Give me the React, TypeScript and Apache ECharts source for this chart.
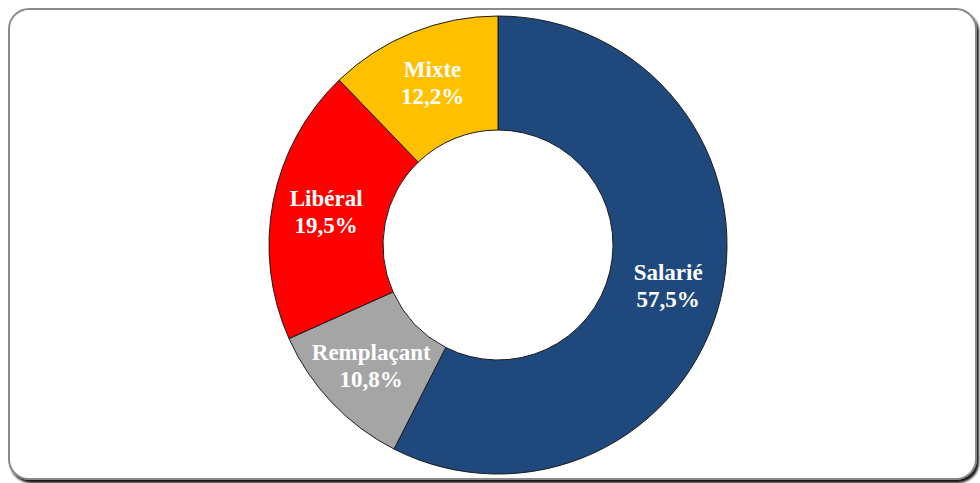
import React, { useEffect, useRef } from "react";
import * as echarts from "echarts";

const categories = ["Salarié", "Remplaçant", "Libéral", "Mixte"];
const values = [57.5, 10.8, 19.5, 12.2];
const colors = ["#1F497D", "#A5A5A5", "#FF0000", "#FFC000"];

export default function App() {
  const ref = useRef<HTMLDivElement>(null);
  useEffect(() => {
    document.body.style.margin = "0";
    const chart = echarts.init(ref.current!, undefined, { renderer: "svg" });
    chart.setOption({
      animation: false,
      backgroundColor: "#ffffff",
      graphic: [
        {
          type: "rect",
          z: -10,
          shape: { x: 9, y: 9, width: 967, height: 470, r: 20 },
          style: {
            fill: "#ffffff",
            stroke: "#8a8a8a",
            lineWidth: 2,
            shadowColor: "rgba(0,0,0,0.9)",
            shadowOffsetX: 2,
            shadowOffsetY: 3,
            shadowBlur: 2,
          },
        },
      ],
      series: [
        {
          type: "pie",
          center: [498, 245],
          radius: [115, 229],
          startAngle: 90,
          clockwise: true,
          label: {
            show: true,
            position: "inside",
            formatter: (p: any) =>
              p.name + "\n" + p.value.toFixed(1).replace(".", ",") + "%",
            color: "#ffffff",
            fontFamily: "Liberation Serif",
            fontWeight: "bold",
            fontSize: 23,
            lineHeight: 27,
          },
          labelLine: { show: false },
          itemStyle: { borderColor: "#1a1a1a", borderWidth: 1 },
          emphasis: { disabled: true },
          data: categories.map((c, i) => ({
            name: c,
            value: values[i],
            itemStyle: { color: colors[i] },
          })),
        },
      ],
    });
    return () => chart.dispose();
  }, []);
  return (
    <div
      ref={ref}
      style={{ position: "fixed", left: 0, top: 0, width: 980, height: 483 }}
    />
  );
}
